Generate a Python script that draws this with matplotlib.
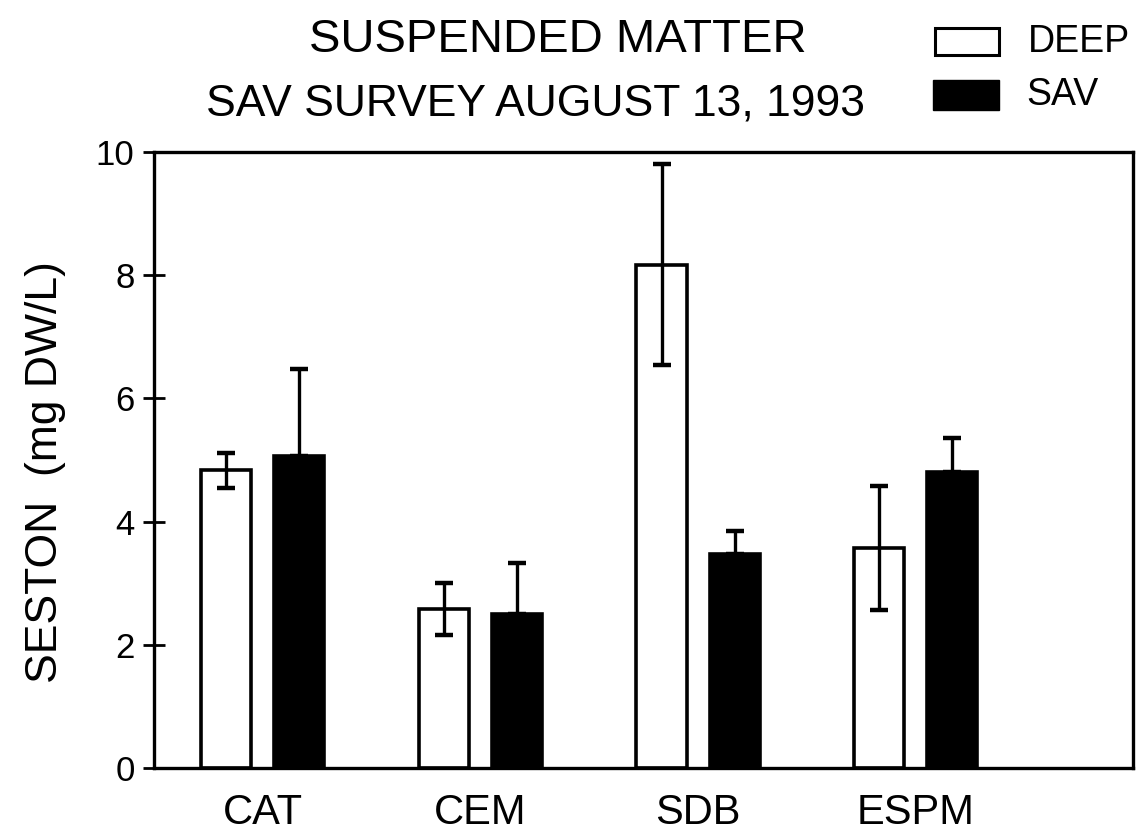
import matplotlib
matplotlib.use("Agg")
import matplotlib.pyplot as plt
import numpy as np
from matplotlib.patches import Rectangle

plt.rcParams['font.family'] = ['Liberation Sans', 'DejaVu Sans']

sites = ["CAT", "CEM", "SDB", "ESPM"]
deep_mean = [4.83, 2.58, 8.17, 3.57]
deep_err = [0.28, 0.42, 1.63, 1.0]
sav_mean = [5.07, 2.50, 3.47, 4.80]
sav_err = [1.40, 0.83, 0.38, 0.55]
yticks = [0, 2, 4, 6, 8, 10]

fig = plt.figure(figsize=(11.36, 8.36), dpi=100)
ax = fig.add_axes([0.1356, 0.0813, 0.862, 0.737])

x = np.arange(len(sites))
w = 0.23
off = 0.168
lw = 2.6

ax.bar(x - off, deep_mean, w, facecolor="white", edgecolor="black", linewidth=lw, zorder=2)
ax.bar(x + off, sav_mean, w, facecolor="black", edgecolor="black", linewidth=lw, zorder=2)
ax.errorbar(x - off, deep_mean, yerr=deep_err, fmt="none", ecolor="black",
            elinewidth=2.4, capsize=6.5, capthick=3.2, zorder=3)
ax.errorbar(x + off, sav_mean, yerr=[[0] * len(sav_err), sav_err], fmt="none",
            ecolor="black", elinewidth=2.4, capsize=6.5, capthick=3.2, zorder=3)

ax.set_xlim(-0.5, 4.0)
ax.set_ylim(0, 10)
ax.set_yticks(yticks)
ax.set_yticklabels([str(v) for v in yticks], fontsize=25)
ax.tick_params(axis="y", direction="inout", length=16, width=2, pad=6)
ax.set_xticks(x)
ax.set_xticklabels(sites, fontsize=30)
ax.tick_params(axis="x", length=0, pad=18)
for s in ax.spines.values():
    s.set_linewidth(2.4)

ax.set_ylabel("SESTON  (mg DW/L)", fontsize=32)
ax.yaxis.set_label_coords(-0.09, 0.48)

fig.text(0.491, 0.952, "SUSPENDED MATTER", ha="center", va="center", fontsize=34)
fig.text(0.471, 0.876, "SAV SURVEY AUGUST 13, 1993", ha="center", va="center", fontsize=32)

# legend
fig.add_artist(Rectangle((935 / 1136, 1 - 55 / 836), 64 / 1136, 27 / 836,
                         transform=fig.transFigure, facecolor="white",
                         edgecolor="black", linewidth=2.2))
fig.add_artist(Rectangle((933 / 1136, 1 - 110 / 836), 66 / 1136, 30 / 836,
                         transform=fig.transFigure, facecolor="black",
                         edgecolor="black", linewidth=1))
fig.text(1028 / 1136, 1 - 42 / 836, "DEEP", ha="left", va="center", fontsize=27)
fig.text(1026 / 1136, 1 - 95 / 836, "SAV", ha="left", va="center", fontsize=27)

fig.savefig("out.png", dpi=100)
